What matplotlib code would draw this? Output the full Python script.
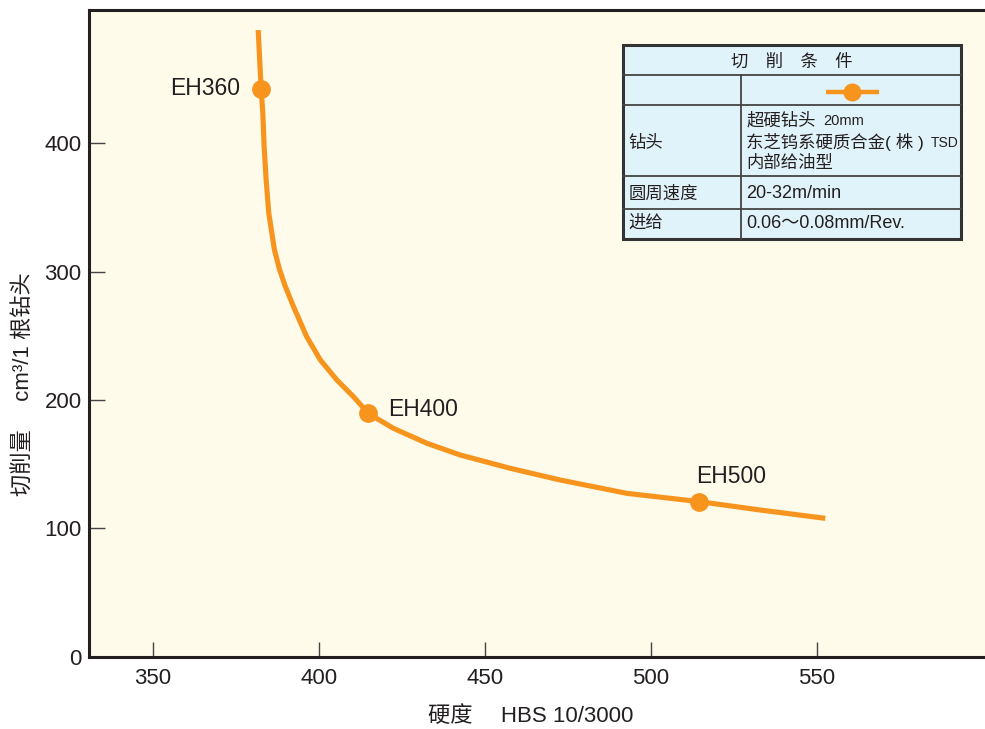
import matplotlib
matplotlib.use("Agg")
import matplotlib.pyplot as plt
from matplotlib.patches import Rectangle

plt.rcParams['font.family'] = ['Liberation Sans', 'Noto Sans CJK SC', 'DejaVu Sans']

# ---- data ----
curve_hbs = [381.8, 382.7, 383.2, 383.6, 384.2, 385.0, 386.7, 388.2, 389.9, 392.4,
             396.4, 400.5, 405.5, 410.5, 415.0, 422.5, 432.6, 442.6, 457.7, 472.7,
             492.8, 514.7, 533.0, 552.6]
curve_vol = [488.3, 442.5, 423.4, 397.4, 371.5, 345.5, 317.0, 302.0, 289.0, 273.0,
             249.4, 231.3, 215.6, 202.6, 189.5, 178.0, 166.3, 157.2, 146.8, 137.7,
             127.3, 120.8, 114.3, 107.8]
grade_names = ["EH360", "EH400", "EH500"]
grade_hbs = [382.7, 415.0, 514.7]
grade_vol = [442.5, 189.5, 120.8]
x_ticks = [350, 400, 450, 500, 550]
y_ticks = [0, 100, 200, 300, 400]
xlabel = "硬度　 HBS 10/3000"
ylabel = "切削量　 cm³/1 根钻头"
table_title = "切　削　条　件"
row_labels = ["钻头", "圆周速度", "进给"]
drill_lines = ["超硬钻头", "东芝钨系硬质合金( 株 )", "内部给油型"]
drill_small = ["20mm", "TSD"]
speed_text = "20-32m/min"
feed_text = "0.06～0.08mm/Rev."

ORANGE = "#F7941D"
CREAM = "#FEFBEA"
TXT = "#231F20"

W, H = 985, 729
fig = plt.figure(figsize=(W / 100, H / 100), dpi=100)
fig.patch.set_facecolor("white")

def px_box(x0, y0, x1, y1):
    return [x0 / W, 1 - y1 / H, (x1 - x0) / W, (y1 - y0) / H]

ax = fig.add_axes(px_box(88.5, 10, 986, 656.7))
ax.set_facecolor(CREAM)
ax.set_xlim(330.7, 601)
ax.set_ylim(0, 503.9)

ax.plot(curve_hbs, curve_vol, color=ORANGE, lw=3.7, solid_capstyle="butt",
        solid_joinstyle="round", zorder=3)
ax.plot(grade_hbs, grade_vol, "o", color=ORANGE, ms=12.5, zorder=4)

label_offsets = [(-15, 0, "right"), (14.5, 3, "left"), (-2.5, 18, "left")]
for name, gx, gy, (dx, dy, ha) in zip(grade_names, grade_hbs, grade_vol, label_offsets):
    ax.annotate(name, (gx, gy), xytext=(dx, dy), textcoords="offset points",
                ha=ha, va="center", fontsize=16.5, color=TXT)

ax.set_xticks(x_ticks)
ax.set_yticks(y_ticks)
ax.tick_params(direction="in", width=1, color="#444444", labelsize=16,
               labelcolor=TXT)
ax.tick_params(axis="x", pad=8, length=10.5)
ax.tick_params(axis="y", pad=5, length=11.5)
for s in ["left", "bottom", "top"]:
    ax.spines[s].set_linewidth(2.2)
    ax.spines[s].set_color("#231F20")
ax.spines["right"].set_visible(False)

fig.text(531 / W, 1 - 716 / H, xlabel, ha="center", va="center", fontsize=16, color=TXT)
fig.text(23 / W, 1 - 384 / H, ylabel, ha="center", va="center", rotation=90,
         fontsize=16, color=TXT)

# ---- condition table ----
tx0, ty0, tx1, ty1 = 622.5, 45, 961, 239
tab = fig.add_axes(px_box(tx0, ty0, tx1, ty1))
tw, th = tx1 - tx0, ty1 - ty0
tab.set_xlim(0, tw)
tab.set_ylim(th, 0)
tab.axis("off")
tab.add_patch(Rectangle((0, 0), tw, th, facecolor="#E1F3FA", edgecolor="#333333",
                        lw=2.2, clip_on=False, zorder=1))
for r in [30, 60, 131, 164.3]:
    tab.plot([0, tw], [r, r], color="#444444", lw=1.3, zorder=2, clip_on=False)
colx = 118.3
tab.plot([colx, colx], [30, th], color="#444444", lw=1.3, zorder=2, clip_on=False)

tab.text(tw / 2, 16.5, table_title, ha="center", va="center", fontsize=12.5, color=TXT)
tab.plot([203, 256], [47.3, 47.3], color=ORANGE, lw=3.2, solid_capstyle="butt", zorder=3)
tab.plot([229.5], [47.3], "o", color=ORANGE, ms=12, zorder=4)

tab.text(6, 98.3, row_labels[0], ha="left", va="center", fontsize=12.5, color=TXT)
tab.text(6, 149, row_labels[1], ha="left", va="center", fontsize=12.5, color=TXT)
tab.text(6, 178, row_labels[2], ha="left", va="center", fontsize=12.5, color=TXT)

tab.text(124, 75, drill_lines[0], ha="left", va="center", fontsize=12.5, color=TXT)
tab.text(200.5, 76, drill_small[0], ha="left", va="center", fontsize=10.5, color=TXT)
tab.text(124, 97.3, drill_lines[1], ha="left", va="center", fontsize=12.5, color=TXT)
tab.text(308, 98, drill_small[1], ha="left", va="center", fontsize=10, color=TXT)
tab.text(124, 118.3, drill_lines[2], ha="left", va="center", fontsize=12.5, color=TXT)
tab.text(124, 149, speed_text, ha="left", va="center", fontsize=13, color=TXT)
tab.text(124, 178, feed_text, ha="left", va="center", fontsize=13, color=TXT)

fig.savefig("out.png", dpi=100, facecolor="white")
